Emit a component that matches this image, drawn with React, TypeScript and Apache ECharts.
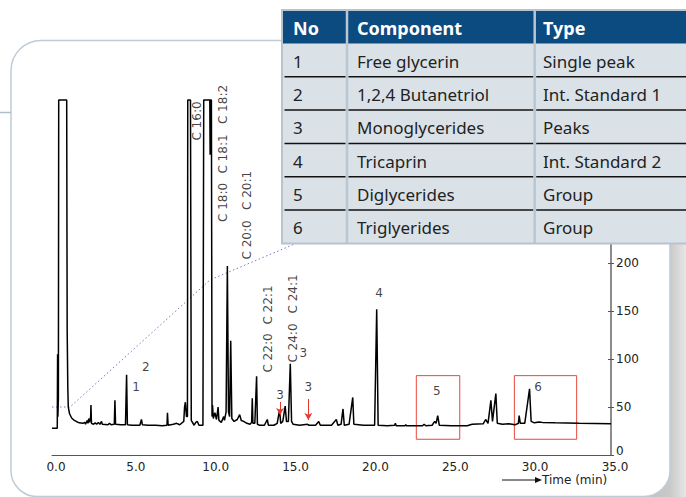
import { useEffect, useRef } from "react";
import * as echarts from "echarts";

// Chromatogram trace: [time (min), detector response]
const trace: [number, number][] = [
  [0, 28], [0.33, 28], [0.35, 105], [0.37, 40], [0.4, 60], [0.42, 370], [0.92, 370], [0.95, 130],
  [0.99, 70], [1.02, 50], [1.1, 43], [1.23, 38.6], [1.4, 36], [1.55, 34.7], [1.7, 33.5], [1.94, 33],
  [2.05, 34], [2.1, 32], [2.2, 36], [2.25, 33], [2.3, 38], [2.35, 34], [2.42, 40], [2.44, 52],
  [2.47, 33], [2.6, 32], [2.7, 33.5], [2.8, 32], [2.9, 34], [3.0, 32], [3.1, 35], [3.15, 32],
  [3.5, 31.5], [3.6, 33], [3.7, 31.5], [3.9, 32], [3.94, 57], [3.98, 32], [4.3, 31.5], [4.6, 31.5],
  [4.67, 83.6], [4.72, 31.5], [5.0, 31], [5.5, 31], [5.6, 37], [5.66, 31.5], [6.0, 31], [6.5, 31],
  [6.9, 30.5], [7.2, 31], [7.23, 44], [7.27, 31], [7.6, 32], [7.8, 33], [8.0, 31.5], [8.25, 35],
  [8.3, 50], [8.35, 55], [8.42, 40], [8.48, 40], [8.5, 370], [8.67, 370], [8.72, 36], [8.9, 31],
  [9.0, 34], [9.1, 35], [9.2, 31], [9.45, 31], [9.5, 370], [9.88, 370], [9.9, 313], [9.93, 370],
  [9.98, 370], [10.02, 40], [10.05, 52], [10.1, 38], [10.2, 44], [10.3, 37], [10.4, 50], [10.45, 36],
  [10.6, 34], [10.75, 40], [10.8, 36], [10.9, 45], [10.98, 197], [11.05, 45], [11.12, 40], [11.19, 119],
  [11.26, 38], [11.4, 35], [11.6, 37], [11.75, 42], [11.85, 36], [12.0, 35], [12.2, 33], [12.4, 32],
  [12.5, 34], [12.54, 59], [12.58, 33], [12.7, 33], [12.81, 82], [12.86, 32], [13.0, 31], [13.3, 31],
  [13.48, 37], [13.55, 31], [13.9, 31], [14.1, 33], [14.25, 47], [14.32, 33], [14.45, 35], [14.6, 51],
  [14.68, 35], [14.8, 35], [14.92, 95], [15.0, 35], [15.1, 32], [15.5, 31], [16.0, 32], [16.1, 31],
  [16.5, 31], [16.7, 35], [16.8, 31], [17.5, 31], [17.8, 37], [17.9, 31], [18.1, 32], [18.22, 48],
  [18.3, 31], [18.6, 32], [18.83, 60], [18.9, 32], [19.5, 31], [20.2, 31], [20.33, 152], [20.42, 31],
  [21.0, 30.5], [21.45, 31], [21.5, 33], [21.55, 30.5], [22.1, 30.5], [22.15, 31.5], [22.2, 30.5],
  [23.2, 30.5], [23.3, 32], [23.4, 30.5], [23.8, 31], [23.96, 35], [24.05, 33], [24.15, 41], [24.25, 31],
  [25.0, 30.5], [26.0, 30.5], [26.3, 32], [27.0, 32.5], [27.15, 37], [27.3, 33], [27.48, 57], [27.58, 35],
  [27.79, 64], [27.88, 33], [28.2, 32], [28.6, 32.5], [29.0, 31.5], [29.2, 33], [29.25, 41], [29.32, 33],
  [29.6, 33], [29.9, 69], [30.0, 35], [30.2, 33.5], [30.5, 34.5], [30.7, 34], [31.5, 33.5], [33.0, 33],
  [35.0, 32.5],
];

// Dotted zoom guide line
const zoomGuide: [number, number][] = [[0, 50], [1.13, 50], [9.89, 182.4], [15.34, 221], [17, 228]];

// Peak annotations
const labelTexts = ["C 16:0", "C 18:2", "C 18:1", "C 18:0", "C 20:1", "C 20:0", "C 22:1", "C 22:0", "C 24:1", "C 24:0", "3", "2", "1", "3", "3", "4", "5", "6"];
const labelTimes = [9.08, 10.71, 10.71, 10.71, 12.19, 12.19, 13.51, 13.51, 15.11, 15.11, 15.74, 5.87, 5.26, 14.28, 16.05, 20.48, 24.09, 30.43];
const labelHeights = [348.1, 365.3, 313.7, 263.2, 275.7, 224.1, 156.3, 106.3, 167.8, 116.7, 106, 92, 70.6, 62.5, 71.2, 168.5, 67, 70.6];
const labelAngles = [90, 90, 90, 90, 90, 90, 90, 90, 90, 90, 0, 0, 0, 0, 0, 0, 0, 0];

// Red arrows (monoglycerides) : [time, from, to]
const arrowTimes = [14.28, 16.05];
const arrowFrom = [55.3, 58.4];
const arrowTo = [41.7, 36.5];

// Red group boxes
const boxStart = [22.81, 28.95];
const boxEnd = [25.53, 32.85];
const boxLow = 16.4;
const boxHigh = 82.7;

// Visible right-axis tick labels (upper ones are covered by the table)
const visibleYMax = 200;

// Table
const tableHeader = ["No", "Component", "Type"];
const rowNo = ["1", "2", "3", "4", "5", "6"];
const rowComponent = ["Free glycerin", "1,2,4 Butanetriol", "Monoglycerides", "Tricaprin", "Diglycerides", "Triglyerides"];
const rowType = ["Single peak", "Int. Standard 1", "Peaks", "Int. Standard 2", "Group", "Group"];

const FONT = "Noto Sans";
const CFONT = "DejaVu Sans";

export default function App() {
  const ref = useRef<HTMLDivElement>(null);
  useEffect(() => {
    if (!ref.current) return;
    const chart = echarts.init(ref.current, undefined, { renderer: "svg" });

    const tableEls: any[] = [];
    const tX = 283, tTop = 11, hH = 32.5, rH = 33.3;
    const colX = [283, 347, 534.7, 690];
    const textX = [293, 357, 543];
    tableEls.push({ type: "rect", z: 50, shape: { x: 282, y: 10, width: 420, height: 233.5 }, style: { fill: "#dae2e8", stroke: "#b7c4ce", lineWidth: 2 } });
    tableEls.push({ type: "rect", z: 51, shape: { x: tX, y: tTop, width: 410, height: hH }, style: { fill: "#0b4b7f" } });
    for (let c = 1; c < 3; c++) {
      tableEls.push({ type: "line", z: 52, shape: { x1: colX[c], y1: tTop, x2: colX[c], y2: 243 }, style: { stroke: "#b9c7d2", lineWidth: 2.5 } });
    }
    for (let r = 1; r < rowNo.length; r++) {
      const y = tTop + hH + r * rH;
      for (let c = 0; c < 3; c++) {
        tableEls.push({ type: "line", z: 53, shape: { x1: colX[c] + 1.5, y1: y, x2: colX[c + 1] - 1.5, y2: y }, style: { stroke: "#111", lineWidth: 1.5 } });
      }
    }
    tableHeader.forEach((h, i) => {
      tableEls.push({ type: "text", z: 54, x: textX[i], y: tTop + hH / 2 + 1, style: { text: h, fill: "#fff", font: `bold 18px "${FONT}"`, textVerticalAlign: "middle", textAlign: "left" } });
    });
    const cols = [rowNo, rowComponent, rowType];
    cols.forEach((col, ci) => {
      col.forEach((t, ri) => {
        tableEls.push({ type: "text", z: 54, x: textX[ci], y: tTop + hH + ri * rH + rH / 2 + 1.2, style: { text: t, fill: "#222", font: `17px "${FONT}"`, textVerticalAlign: "middle", textAlign: "left" } });
      });
    });

    const option: any = {
      animation: false,
      textStyle: { fontFamily: CFONT },
      grid: { left: 52, right: 75, top: 100, bottom: 42, containLabel: false },
      xAxis: {
        type: "value", min: 0, max: 35, interval: 5,
        axisLine: { show: true, lineStyle: { color: "#555", width: 1 } },
        axisTick: { show: false },
        splitLine: { show: false },
        axisLabel: { color: "#222", fontSize: 12, fontFamily: CFONT, margin: 6, padding: [0, 0, 0, 8], formatter: (v: number) => v.toFixed(1), showMaxLabel: true },
      },
      yAxis: [
        {
          type: "value", position: "right", min: 0, max: 370, interval: 50,
          axisLine: { show: true, onZero: false, lineStyle: { color: "#666", width: 1.5 } },
          axisTick: { show: true, inside: false, length: 3, lineStyle: { color: "#555" } },
          splitLine: { show: false },
          axisLabel: {
            color: "#222", fontSize: 12, fontFamily: CFONT, margin: 5,
            formatter: (v: number) => (v > visibleYMax ? "" : v === 0 ? "{z|0}" : String(v)),
            rich: { z: { color: "#222", fontSize: 12, fontFamily: CFONT, padding: [0, 0, 9, 0] } },
          },
        },
        {
          type: "value", position: "left", offset: -559, min: 0, max: 370, interval: 50,
          axisLine: { show: false },
          axisTick: { show: true, inside: false, length: 3, lineStyle: { color: "#555" } },
          splitLine: { show: false },
          axisLabel: { show: false },
        },
      ],
      series: [
        {
          type: "line", data: zoomGuide, symbol: "none", silent: true, z: 1,
          lineStyle: { color: "#7b78b8", width: 1, type: [1.5, 2.5] },
        },
        {
          type: "line", data: trace, symbol: "none", clip: false, z: 3,
          lineStyle: { color: "#000", width: 1.5 },
          markLine: {
            silent: true, symbol: ["none", "arrow"], symbolSize: [6, 7],
            label: { show: false },
            lineStyle: { color: "#e5392f", width: 1, type: "solid" },
            data: arrowTimes.map((t, i) => [{ coord: [t, arrowFrom[i]] }, { coord: [t, arrowTo[i]] }]),
          },
          markArea: {
            silent: true,
            itemStyle: { color: "rgba(0,0,0,0)", borderColor: "#e8463c", borderWidth: 1 },
            data: boxStart.map((s, i) => [{ coord: [s, boxHigh] }, { coord: [boxEnd[i], boxLow] }]),
          },
        },
        {
          type: "scatter", symbolSize: 0, silent: true, z: 4,
          itemStyle: { color: "#111" },
          data: labelTexts.map((t, i) => ({
            value: [labelTimes[i], labelHeights[i]],
            label: {
              show: true, position: "inside", formatter: t, rotate: labelAngles[i],
              color: "#111", fontSize: 12, fontFamily: CFONT, textBorderWidth: 0,
            },
          })),
        },
      ],
      graphic: {
        elements: [
          {
            type: "rect", z: -12, silent: true,
            shape: { x: 640, y: 60, width: 46, height: 437 },
            style: {
              fill: new echarts.graphic.LinearGradient(0, 0, 1, 0, [
                { offset: 0, color: "#bdbdbd" },
                { offset: 0.65, color: "#c9c9c9" },
                { offset: 1, color: "#e6e6e6" },
              ]),
            },
          },
          {
            type: "rect", z: -10, silent: true,
            shape: { x: 11, y: 40.5, width: 659, height: 456, r: [30, 30, 26, 26] },
            style: { fill: "#fff", stroke: "#bfccd6", lineWidth: 1.5 },
          },
          { type: "line", z: -5, shape: { x1: 0, y1: 112.5, x2: 11, y2: 112.5 }, style: { stroke: "#aebfcb", lineWidth: 1.5 } },
          { type: "line", z: 10, shape: { x1: 502, y1: 480, x2: 537, y2: 480 }, style: { stroke: "#111", lineWidth: 1 } },
          { type: "polygon", z: 10, shape: { points: [[535, 477], [542, 480], [535, 483]] }, style: { fill: "#111" } },
          { type: "text", z: 10, x: 542, y: 480, style: { text: "Time (min)", fill: "#222", font: `12px "${CFONT}"`, textVerticalAlign: "middle", textAlign: "left" } },
          ...tableEls,
        ],
      },
    };
    chart.setOption(option);
    return () => chart.dispose();
  }, []);
  return <div ref={ref} style={{ position: "absolute", left: 0, top: 0, width: 686, height: 497 }} />;
}
